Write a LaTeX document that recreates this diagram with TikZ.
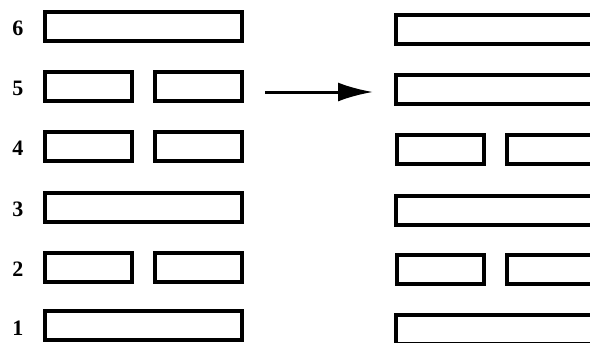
\documentclass[tikz,border=0pt]{standalone}
\usepackage{fontspec}
\setmainfont{Liberation Serif}
\usetikzlibrary{arrows.meta}
\begin{document}
\begin{tikzpicture}[x=1pt,y=-1pt,
  bar/.style={draw=black, line width=4pt, inner sep=0pt, rectangle, minimum height=29pt},
  yang/.style={bar, minimum width=197pt},
  yin/.style={bar, minimum width=87pt},
  num/.style={font=\bfseries\fontsize{22}{22}\selectfont, inner sep=0pt}]
\useasboundingbox (0,0) rectangle (590,343);
\clip (0,0) rectangle (590,343);
% left hexagram
\node[num] (n6) at (18,28) {6};
\node[num] (n5) at (18,88) {5};
\node[num] (n4) at (18,148) {4};
\node[num] (n3) at (18,209) {3};
\node[num] (n2) at (18,269) {2};
\node[num] (n1) at (18,328) {1};
\node[yang] (L6) at (143.5,26.5) {};
\node[yin] (L5a) at (88.5,86.5) {};
\node[yin] (L5b) at (198.5,86.5) {};
\node[yin] (L4a) at (88.5,146.5) {};
\node[yin] (L4b) at (198.5,146.5) {};
\node[yang] (L3) at (143.5,207.5) {};
\node[yin] (L2a) at (88.5,267.5) {};
\node[yin] (L2b) at (198.5,267.5) {};
\node[yang] (L1) at (143.5,325.5) {};
% right hexagram
\node[yang] (R6) at (494.5,29) {};
\node[yang] (R5) at (494.5,89) {};
\node[yin] (R4a) at (440.5,149.5) {};
\node[yin] (R4b) at (550.5,149.5) {};
\node[yang] (R3) at (494.5,210) {};
\node[yin] (R2a) at (440.5,269.5) {};
\node[yin] (R2b) at (550.5,269.5) {};
\node[yang] (R1) at (494.5,329) {};
% arrow
\coordinate (as) at (265,92);
\draw[line width=3pt, -{Latex[length=35pt,width=19pt]}, shorten >=21pt]
  (as) -- (as -| R5.west);
\end{tikzpicture}
\end{document}
